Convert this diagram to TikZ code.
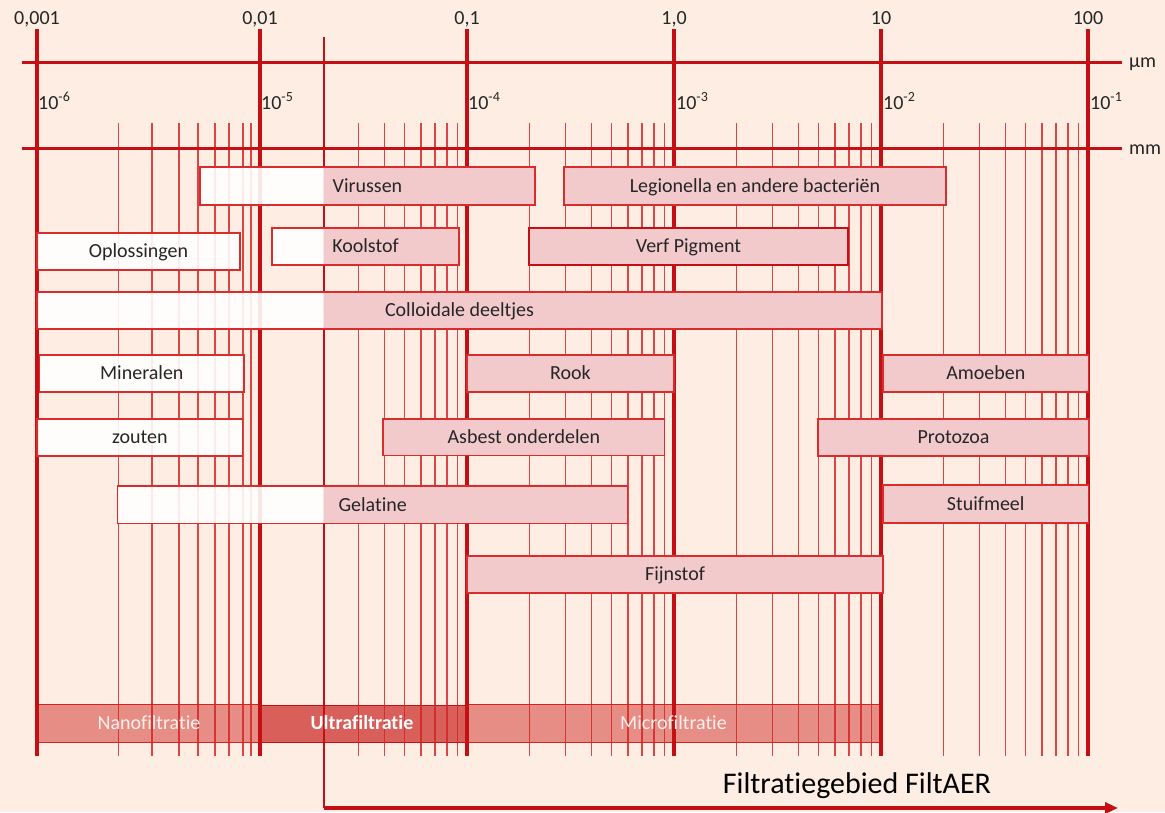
\documentclass[tikz,border=0pt]{standalone}
\usepackage{fontspec}
\setmainfont{Carlito}[Ligatures={NoCommon}]
\usetikzlibrary{arrows.meta}
\definecolor{bg}{RGB}{253,237,226}
\definecolor{boxpink}{RGB}{242,202,204}
\definecolor{majorred}{RGB}{196,16,20}
\definecolor{minorred}{RGB}{212,34,34}
\definecolor{boxred}{RGB}{218,44,44}
\definecolor{nanofill}{RGB}{230,142,133}
\definecolor{ultrafill}{RGB}{217,95,91}
\definecolor{txt}{RGB}{38,38,38}
\definecolor{bartxt}{RGB}{255,240,236}
\newcommand\itembox[7][]{%
  \pgfmathsetmacro\ibsplit{max(min(#5,324),#3)}%
  \fill[white,opacity=0.9] (#3,#4) rectangle (\ibsplit,#6);
  \fill[boxpink] (\ibsplit,#4) rectangle (#5,#6);
  \draw[boxline,#1] (#3,#4) rectangle (#5,#6);
  \node[lbl] (#2) at ({(#3+#5)/2},{(#4+#6)/2}) {#7};
}
\begin{document}
\begin{tikzpicture}[x=1pt,y=-1pt,
  majorline/.style={draw=majorred,line width=3.2pt},
  minorline/.style={draw=minorred,opacity=0.82,line width=1.25pt},
  axisline/.style={draw=majorred,line width=3pt},
  boxline/.style={draw=boxred,line width=1.3pt},
  lbl/.style={font=\fontsize{20}{24}\selectfont,text=txt,inner sep=0pt,text height=12.6pt,text depth=0pt},
  toplbl/.style={font=\fontsize{20}{24}\selectfont,text=txt,inner sep=0pt},
  barlbl/.style={font=\fontsize{20}{24}\selectfont,text=bartxt,inner sep=0pt,text height=12.6pt,text depth=0pt},
  ]
\useasboundingbox (0,0) rectangle (1165,812);
\fill[bg] (0,0) rectangle (1165,812);
% filtration bars
\fill[nanofill] (37,704) rectangle (260,742);
\fill[ultrafill] (260,705) rectangle (467,742);
\fill[nanofill] (467,704) rectangle (881,742);
\draw[minorred,line width=1pt] (37,704) rectangle (260,742);
\draw[majorred,line width=1pt] (260,705) rectangle (467,742);
\draw[minorred,line width=1pt] (467,704) rectangle (881,742);
% minor grid
\foreach \xx in {118.7,152,179,198,215,229,243,251}
  \draw[minorline] (\xx,123) -- (\xx,756);
\foreach \k in {3,...,9}{
  \pgfmathsetmacro\xx{467-207*(1-log10(\k))}
  \draw[minorline] (\xx,123) -- (\xx,756);}
\foreach \R in {674,881,1088}{
  \foreach \k in {2,...,9}{
    \pgfmathsetmacro\xx{\R-207*(1-log10(\k))}
    \draw[minorline] (\xx,123) -- (\xx,756);}}
% major grid
\foreach \xx in {37,260,467,674,881,1088}
  \draw[majorline] (\xx,29) -- (\xx,756);
% axes
\coordinate (umL) at (22,62); \coordinate (umR) at (1122,62);
\coordinate (mmL) at (22,148); \coordinate (mmR) at (1122,148);
\draw[axisline] (umL) -- (umR);
\draw[axisline] (mmL) -- (mmR);
% filtration range line
\coordinate (fstart) at (324,37);
\coordinate (fcorner) at (324,808);
\coordinate (fend) at (1118,808);
\draw[majorred,line width=1.3pt] (fstart) -- (fcorner);
% boxes
\itembox{vir}{200}{167}{535}{205}{Virussen}
\itembox{leg}{564}{167}{946}{205}{Legionella en andere bacteriën}
\itembox{opl}{37}{233}{240}{270}{Oplossingen}
\itembox{kool}{272}{228}{459}{265}{Koolstof}
\itembox[draw=majorred,line width=2.2pt]{verf}{529}{228}{848}{265}{Verf Pigment}
\itembox{coll}{37}{292}{882}{329}{Colloidale deeltjes}
\itembox{mine}{39.6}{355}{244}{392}{Mineralen}
\itembox{rook}{467}{355}{674}{392}{Rook}
\itembox{amo}{883}{355}{1088.5}{392}{Amoeben}
\itembox{zout}{37}{419}{242.7}{456}{zouten}
\itembox{asb}{383}{419}{664.7}{455.5}{Asbest onderdelen}
\itembox{proto}{818}{419}{1089}{456}{Protozoa}
\itembox{gel}{117.6}{486}{627.8}{523.7}{Gelatine}
\itembox{stuif}{883}{485}{1088.5}{523}{Stuifmeel}
\itembox{fijn}{467}{556}{883}{593}{Fijnstof}
% bar labels
\node[barlbl] (nano) at (149,723) {Nanofiltratie};
\node[barlbl,text=white,font=\fontsize{20}{24}\selectfont\bfseries] (ultra) at (362,723.5) {Ultrafiltratie};
\node[barlbl] (micro) at (673.5,723) {Microfiltratie};
% top labels
\node[toplbl,anchor=base] (a1) at (37,24) {0,001};
\node[toplbl,anchor=base] (a2) at (260,24) {0,01};
\node[toplbl,anchor=base] (a3) at (467,24) {0,1};
\node[toplbl,anchor=base] (a4) at (674,24) {1,0};
\node[toplbl,anchor=base] (a5) at (881,24) {10};
\node[toplbl,anchor=base] (a6) at (1088,24) {100};
\node[toplbl,anchor=base west] (b1) at (38,109) {10\textsuperscript{-6}};
\node[toplbl,anchor=base west] (b2) at (261,109) {10\textsuperscript{-5}};
\node[toplbl,anchor=base west] (b3) at (468,109) {10\textsuperscript{-4}};
\node[toplbl,anchor=base west] (b4) at (676,109) {10\textsuperscript{-3}};
\node[toplbl,anchor=base west] (b5) at (883,109) {10\textsuperscript{-2}};
\node[toplbl,anchor=base west] (b6) at (1090,109) {10\textsuperscript{-1}};
\node[toplbl,anchor=base west] (um) at (1129,67) {µm};
\node[toplbl,anchor=base west] (mm) at (1129,154) {mm};
% title and arrow
\node[inner sep=0pt,text=black,font=\fontsize{30}{36}\selectfont,text height=19pt,text depth=0pt] (title) at (857,783.5) {Filtratiegebied FiltAER};
\draw[majorred,line width=3.4pt,-{Triangle[length=13pt,width=11pt]}] (fcorner) -- (fend);
\end{tikzpicture}
\end{document}
